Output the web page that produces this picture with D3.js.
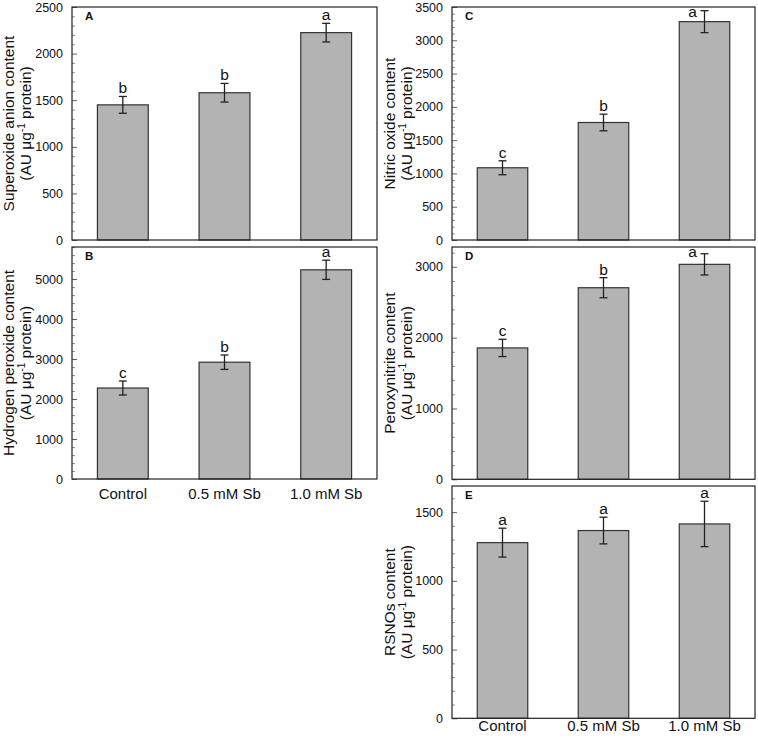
<!DOCTYPE html>
<html>
<head>
<meta charset="utf-8">
<script src="https://cdn.jsdelivr.net/npm/d3@7"></script>
<style>
  html, body { margin: 0; padding: 0; background: #fff; }
  svg { display: block; }
  text { font-family: Arial, "Liberation Sans", Helvetica, sans-serif; fill: #111; }
</style>
</head>
<body>
<svg id="chart" width="758" height="740"></svg>
<script>
// ---- data ----
const categories = ["Control", "0.5 mM Sb", "1.0 mM Sb"];

const superoxide = [1450, 1580, 2225];
const superoxideErr = [90, 100, 100];
const superoxideSig = ["b", "b", "a"];

const hydrogenPeroxide = [2275, 2920, 5230];
const hydrogenPeroxideErr = [175, 180, 240];
const hydrogenPeroxideSig = ["c", "b", "a"];

const nitricOxide = [1085, 1765, 3280];
const nitricOxideErr = [105, 125, 165];
const nitricOxideSig = ["c", "b", "a"];

const peroxynitrite = [1855, 2705, 3035];
const peroxynitriteErr = [122, 142, 150];
const peroxynitriteSig = ["c", "b", "a"];

const rsnos = [1278, 1366, 1414];
const rsnosErr = [105, 97, 165];
const rsnosSig = ["a", "a", "a"];

const superoxideTicks = [0, 500, 1000, 1500, 2000, 2500];
const hydrogenPeroxideTicks = [0, 1000, 2000, 3000, 4000, 5000];
const nitricOxideTicks = [0, 500, 1000, 1500, 2000, 2500, 3000, 3500];
const peroxynitriteTicks = [0, 1000, 2000, 3000];
const rsnosTicks = [0, 500, 1000, 1500];

// ---- layout ----
const svg = d3.select("#chart");

// sigPos: optional per-bar override {dx, y} for letters that sit beside the cap
const panels = [
  { letter: "A", title: "Superoxide anion content", values: superoxide, err: superoxideErr, sig: superoxideSig,
    ticks: superoxideTicks, minorStep: 100, max: 2500, x0: 72, x1: 377, y0: 7, y1: 240, titleX: 14, xLabels: false, sigPos: {} },
  { letter: "B", title: "Hydrogen peroxide content", values: hydrogenPeroxide, err: hydrogenPeroxideErr, sig: hydrogenPeroxideSig,
    ticks: hydrogenPeroxideTicks, minorStep: 200, max: 5800, x0: 72, x1: 377, y0: 247, y1: 479, titleX: 14, xLabels: true, labelPad: 9.5, sigPos: {} },
  { letter: "C", title: "Nitric oxide content", values: nitricOxide, err: nitricOxideErr, sig: nitricOxideSig,
    ticks: nitricOxideTicks, minorStep: 100, max: 3500, x0: 452, x1: 755, y0: 7, y1: 240, titleX: 395, xLabels: false,
    sigPos: { 2: { dx: -12, y: 17 } } },
  { letter: "D", title: "Peroxynitrite content", values: peroxynitrite, err: peroxynitriteErr, sig: peroxynitriteSig,
    ticks: peroxynitriteTicks, minorStep: 200, max: 3280, x0: 452, x1: 755, y0: 247, y1: 479.3, titleX: 395, xLabels: false,
    sigPos: { 2: { dx: -12, y: 257 } } },
  { letter: "E", title: "RSNOs content", values: rsnos, err: rsnosErr, sig: rsnosSig,
    ticks: rsnosTicks, minorStep: 100, max: 1690, x0: 452, x1: 755, y0: 486, y1: 718.3, titleX: 395, xLabels: true, labelPad: 2.5, sigPos: {} }
];

panels.forEach(p => {
  const x = d3.scaleBand().domain(categories).range([p.x0, p.x1]).paddingInner(0.5).paddingOuter(0.25);
  const y = d3.scaleLinear().domain([0, p.max]).range([p.y1, p.y0]);
  const g = svg.append("g");
  const cx = d => x(d) + x.bandwidth() / 2;

  // minor ticks
  const minor = d3.range(0, p.max + 1e-6, p.minorStep).filter(v => !p.ticks.includes(v));
  g.append("g").attr("transform", `translate(${p.x0},0)`)
    .call(d3.axisLeft(y).tickValues(minor).tickSizeInner(-3).tickSizeOuter(0).tickFormat(""))
    .call(a => a.select(".domain").remove())
    .call(a => a.selectAll("line").attr("stroke", "#777").attr("stroke-width", 0.8));

  // major ticks
  g.append("g").attr("transform", `translate(${p.x0},0)`)
    .call(d3.axisLeft(y).tickValues(p.ticks).tickSizeInner(-5).tickSizeOuter(0).tickPadding(9).tickFormat(d3.format("d")))
    .call(a => a.select(".domain").remove())
    .call(a => a.selectAll("line").attr("stroke", "#555").attr("stroke-width", 0.9))
    .call(a => a.selectAll("text").style("font-size", "12.5px").attr("fill", "#111"));

  // bars
  g.selectAll("rect.bar").data(categories).join("rect")
    .attr("class", "bar")
    .attr("x", d => x(d))
    .attr("width", x.bandwidth())
    .attr("y", (d, i) => y(p.values[i]))
    .attr("height", (d, i) => y(0) - y(p.values[i]))
    .attr("fill", "#b3b3b3")
    .attr("stroke", "#333")
    .attr("stroke-width", 1.2);

  // error bars
  const eb = g.selectAll("g.err").data(categories).join("g").attr("class", "err")
    .attr("stroke", "#222").attr("stroke-width", 1.3);
  eb.append("line")
    .attr("x1", cx).attr("x2", cx)
    .attr("y1", (d, i) => y(p.values[i] - p.err[i])).attr("y2", (d, i) => y(p.values[i] + p.err[i]));
  eb.append("line")
    .attr("x1", d => cx(d) - 4).attr("x2", d => cx(d) + 4)
    .attr("y1", (d, i) => y(p.values[i] + p.err[i])).attr("y2", (d, i) => y(p.values[i] + p.err[i]));
  eb.append("line")
    .attr("x1", d => cx(d) - 4).attr("x2", d => cx(d) + 4)
    .attr("y1", (d, i) => y(p.values[i] - p.err[i])).attr("y2", (d, i) => y(p.values[i] - p.err[i]));

  // significance letters
  g.selectAll("text.sig").data(categories).join("text")
    .attr("class", "sig")
    .attr("x", (d, i) => cx(d) + (p.sigPos[i] ? p.sigPos[i].dx : 0))
    .attr("y", (d, i) => p.sigPos[i] ? p.sigPos[i].y : y(p.values[i] + p.err[i]) - 3)
    .attr("text-anchor", "middle")
    .style("font-size", "15.5px")
    .text((d, i) => p.sig[i]);

  // frame
  g.append("rect")
    .attr("x", p.x0).attr("y", p.y0)
    .attr("width", p.x1 - p.x0).attr("height", p.y1 - p.y0)
    .attr("fill", "none").attr("stroke", "#222").attr("stroke-width", 1.2);

  // panel letter
  g.append("text")
    .attr("x", p.x0 + 13).attr("y", p.y0 + 13)
    .style("font-size", "11.5px").style("font-weight", "bold")
    .text(p.letter);

  // x labels
  if (p.xLabels) {
    g.append("g").attr("transform", `translate(0,${p.y1})`)
      .call(d3.axisBottom(x).tickSize(0).tickPadding(p.labelPad))
      .call(a => a.select(".domain").remove())
      .call(a => a.selectAll("text").style("font-size", "15px").attr("fill", "#111"));
  }

  // y title (two lines)
  const cy = (p.y0 + p.y1) / 2;
  g.append("text")
    .attr("transform", `translate(${p.titleX},${cy}) rotate(-90)`)
    .attr("text-anchor", "middle")
    .style("font-size", "15.5px")
    .text(p.title);
  const t2 = g.append("text")
    .attr("transform", `translate(${p.titleX + 17},${cy}) rotate(-90)`)
    .attr("text-anchor", "middle")
    .style("font-size", "15.5px");
  t2.append("tspan").text("(AU μg");
  t2.append("tspan").attr("dy", -6).style("font-size", "10px").text("-1");
  t2.append("tspan").attr("dy", 6).text(" protein)");
});
</script>
</body>
</html>
